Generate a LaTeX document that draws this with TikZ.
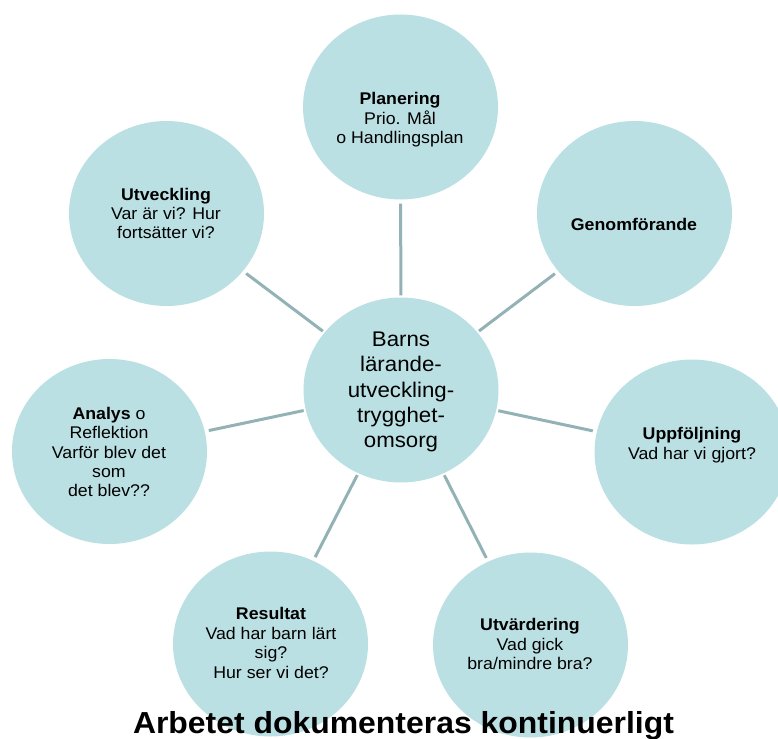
\documentclass[tikz,border=0pt]{standalone}
\usepackage{fontspec}
\setmainfont{Liberation Sans}[FakeStretch=1.05]
\usetikzlibrary{shapes.geometric}
\definecolor{bubfill}{HTML}{BBE0E3}
\definecolor{linkcol}{HTML}{93B2B6}
\begin{document}
\begin{tikzpicture}[x=1pt,y=-1pt,
  bub/.style={ellipse, fill=bubfill, minimum width=195pt, minimum height=185pt, inner sep=0pt},
  stxt/.style={align=center, font=\fontsize{16.9}{19.4}\selectfont, inner sep=0pt, text=black},
  ctxt/.style={align=center, font=\fontsize{21.2}{25.25}\selectfont, inner sep=0pt, text=black},
  link/.style={draw=linkcol, line width=3pt, shorten <=2pt, shorten >=4pt},
  titletxt/.style={font=\bfseries\fontsize{30.4}{36}\selectfont, inner sep=0pt, anchor=base}
]
\useasboundingbox (0,0) rectangle (778,738);
% bubbles
\node[bub] (c)    at (401,390) {};
\node[bub] (plan) at (400.5,107) {};
\node[bub] (gen)  at (634.5,213.5) {};
\node[bub] (upp)  at (692,452) {};
\node[bub] (utv)  at (530.5,645) {};
\node[bub] (res)  at (270.5,644) {};
\node[bub] (ana)  at (109.5,451.5) {};
\node[bub] (utc)  at (166.5,213.5) {};
% connectors
\draw[link] (c) -- (plan);
\draw[link] (c) -- (gen);
\draw[link] (c) -- (upp);
\draw[link] (c) -- (utv);
\draw[link] (c) -- (res);
\draw[link] (c) -- (ana);
\draw[link] (c) -- (utc);
% texts
\node[ctxt] (ct) at (401,392) {Barns\\lärande-\\utveckling-\\trygghet-\\omsorg};
\node[stxt] (plant) at (400,120) {\textbf{Planering}\\Prio. Mål\\o Handlingsplan};
\node[stxt] (gent) at (634,224) {\textbf{Genomförande}};
\node[stxt] (uppt) at (692,445) {\textbf{Uppföljning}\\Vad har vi gjort?};
\node[stxt] (utvt) at (530,644) {\textbf{Utvärdering}\\Vad gick\\bra/mindre bra?};
\node[stxt] (rest) at (271,643) {\textbf{Resultat}\\Vad har barn lärt\\sig?\\Hur ser vi det?};
\node[stxt] (anat) at (109,452) {\textbf{Analys} o\\Reflektion\\Varför blev det\\som\\det blev??};
\node[stxt] (utct) at (166,213.5) {\textbf{Utveckling}\\Var är vi? Hur\\fortsätter vi?};
% title
\node[titletxt] (title) at (403.5,733) {Arbetet dokumenteras kontinuerligt};
\end{tikzpicture}
\end{document}
